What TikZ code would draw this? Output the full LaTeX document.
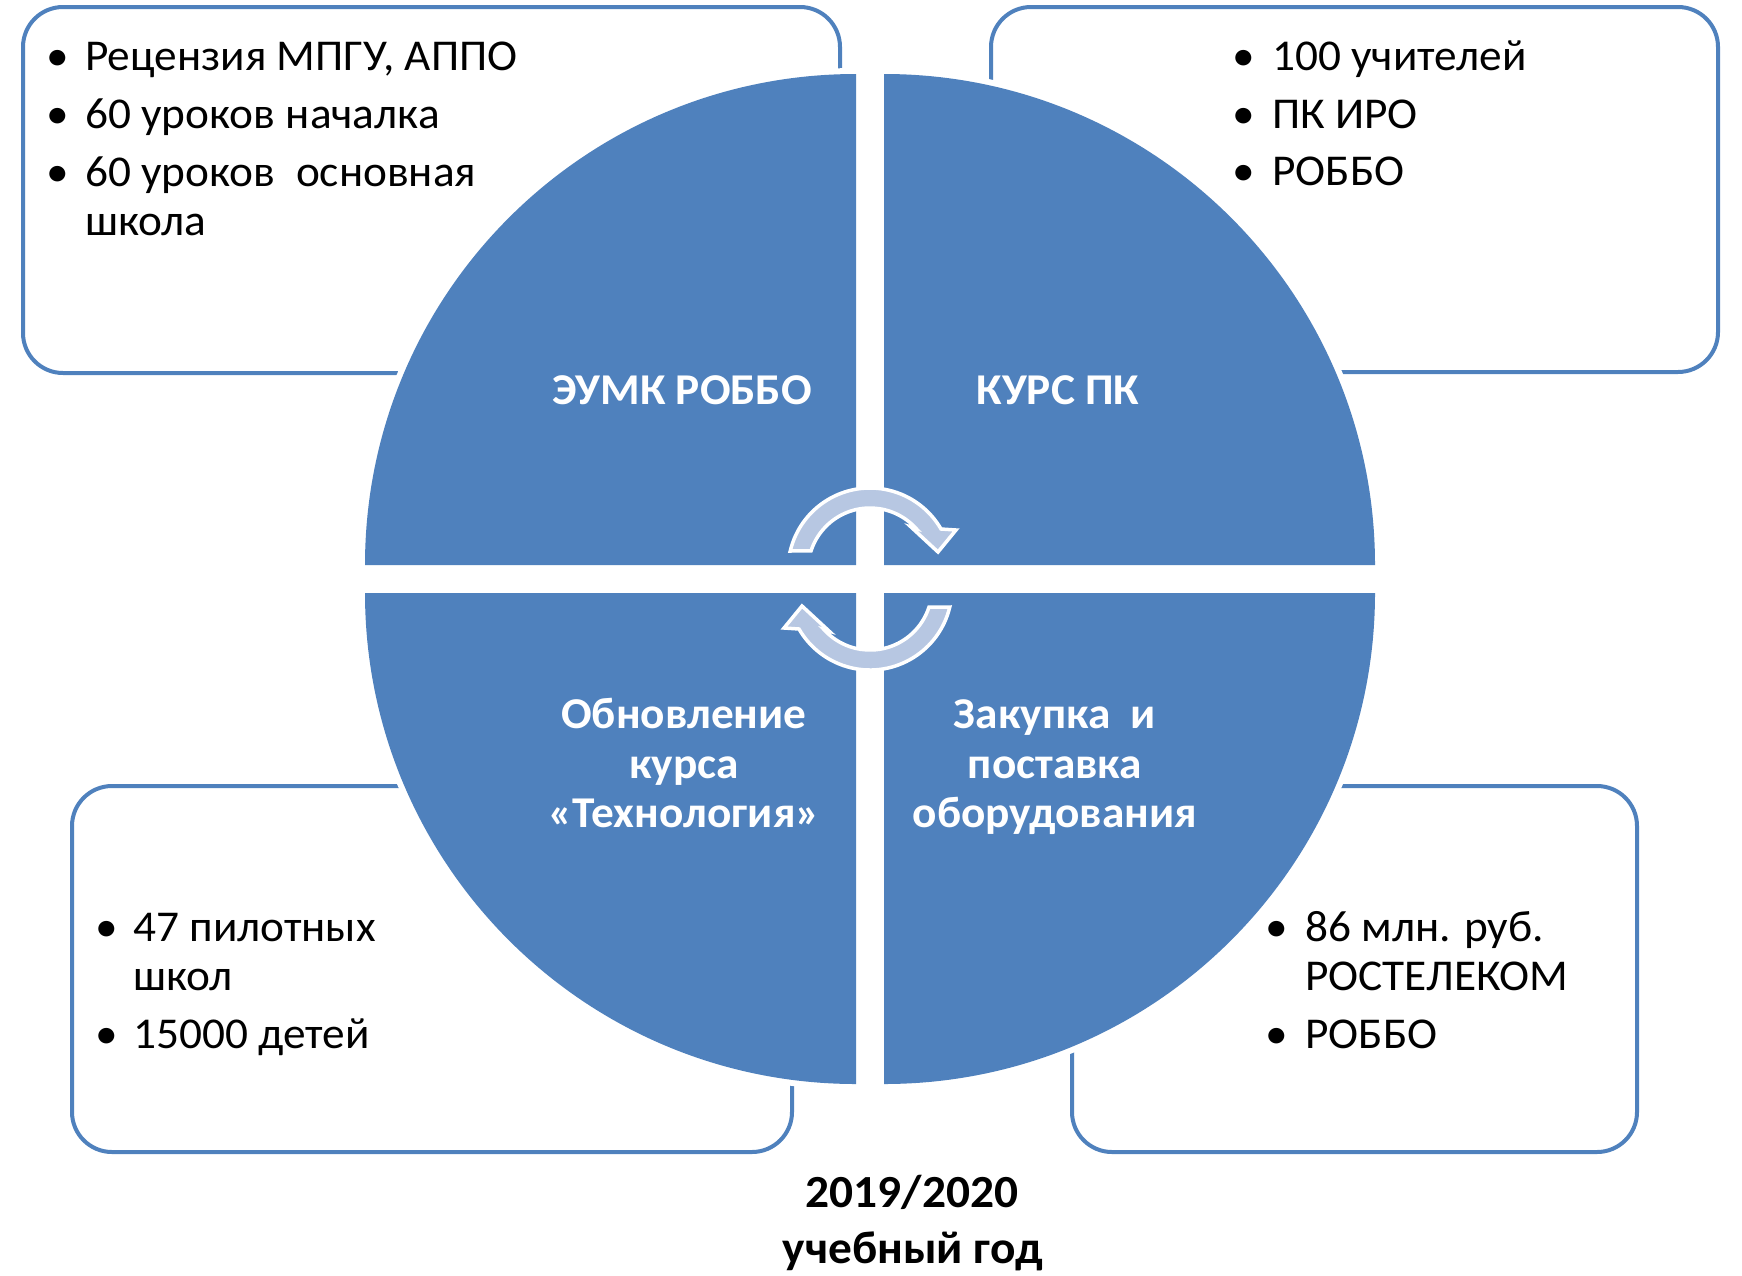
\documentclass[tikz,border=0pt]{standalone}
\usepackage{fontspec}
\setmainfont{Carlito}[FakeStretch=1.03]
\definecolor{pblue}{HTML}{4F81BD}
\definecolor{arrowfill}{HTML}{B7C7E2}
\tikzset{
  infobox/.style={draw=pblue, line width=4, fill=white, rounded corners=40},
  sector/.style={fill=pblue, preaction={draw=white, line width=12}},
  cyclearrow/.style={fill=arrowfill, draw=white, line width=3.5, line join=miter},
  body/.style={font=\fontsize{44}{49}\selectfont, inner sep=0, anchor=base west, text=black},
  bul/.style={font=\fontsize{44}{49}\selectfont, inner sep=0, anchor=base, text=black},
  lab/.style={font=\fontsize{44}{49}\selectfont\bfseries, text=white, inner sep=0, anchor=base},
  ttl/.style={font=\fontsize{46}{50}\selectfont\bfseries, text=black, inner sep=0, anchor=base},
}
\begin{document}
\begin{tikzpicture}[x=1pt,y=-1pt]
\useasboundingbox (0,0) rectangle (1742,1275);
% boxes
\draw[infobox] (23,7) rectangle (840,373);
\draw[infobox] (991,7) rectangle (1718,372);
\draw[infobox] (72,786) rectangle (792,1152);
\draw[infobox] (1072,786) rectangle (1637,1152);
% sectors
\path[sector] (856,565) -- (365,565) arc[start angle=180, end angle=270, radius=491] -- cycle;
\path[sector] (884,565) -- (884,74) arc[start angle=270, end angle=360, radius=491] -- cycle;
\path[sector] (884,593) -- (1375,593) arc[start angle=0, end angle=90, radius=491] -- cycle;
\path[sector] (856,593) -- (856,1084) arc[start angle=90, end angle=180, radius=491] -- cycle;
% cycle arrows
\begin{scope}[shift={(870,570)}]
\path[cyclearrow] (193.4:82) arc[start angle=193.4, end angle=330, radius=82]
  -- (86,-40) -- (68,-18) -- (41,-43) -- (318:62)
  arc[start angle=318, end angle=198, radius=62] -- cycle;
\end{scope}
\begin{scope}[shift={(870,588)}, rotate=180]
\path[cyclearrow] (193.4:82) arc[start angle=193.4, end angle=330, radius=82]
  -- (86,-40) -- (68,-18) -- (41,-43) -- (318:62)
  arc[start angle=318, end angle=198, radius=62] -- cycle;
\end{scope}
% top-left texts
\node[bul] (b11) at (58,70) {•};
\node[body] (t11) at (85,70) {Рецензия МПГУ, АППО};
\node[bul] (b12) at (58,128) {•};
\node[body] (t12) at (85,128) {60 уроков началка};
\node[bul] (b13) at (58,186) {•};
\node[body] (t13) at (85,186) {60 уроков\ \ основная};
\node[body] (t14) at (85,235) {школа};
% top-right texts
\node[bul] (b21) at (1244,70) {•};
\node[body] (t21) at (1272,70) {100 учителей};
\node[bul] (b22) at (1244,128) {•};
\node[body] (t22) at (1272,128) {ПК ИРО};
\node[bul] (b23) at (1244,185) {•};
\node[body] (t23) at (1272,185) {РОББО};
% bottom-left texts
\node[bul] (b31) at (107,941) {•};
\node[body] (t31) at (133,941) {47 пилотных};
\node[body] (t32) at (133,990) {школ};
\node[bul] (b33) at (107,1048) {•};
\node[body] (t33) at (133,1048) {15000 детей};
% bottom-right texts
\node[bul] (b41) at (1277,941) {•};
\node[body] (t41) at (1305,941) {86 млн. руб.};
\node[body] (t42) at (1305,990) {РОСТЕЛЕКОМ};
\node[bul] (b43) at (1277,1048) {•};
\node[body] (t43) at (1305,1048) {РОББО};
% sector labels
\node[lab] (l1) at (682,404) {ЭУМК РОББО};
\node[lab] (l2) at (1058,404) {КУРС ПК};
\node[lab] (l31) at (684,728) {Обновление};
\node[lab] (l32) at (684,778) {курса};
\node[lab] (l33) at (684,827) {«Технология»};
\node[lab] (l41) at (1055,728) {Закупка\ \ и};
\node[lab] (l42) at (1055,778) {поставка};
\node[lab] (l43) at (1055,827) {оборудования};
% title
\node[ttl] (y1) at (912,1207) {2019/2020};
\node[ttl] (y2) at (913,1263) {учебный год};
\end{tikzpicture}
\end{document}
